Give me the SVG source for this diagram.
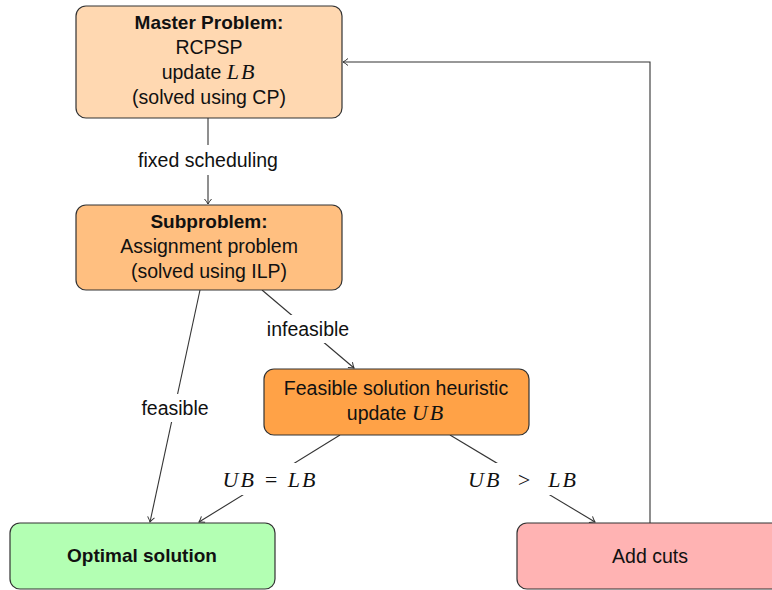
<svg xmlns="http://www.w3.org/2000/svg" width="772" height="590" viewBox="0 0 772 590">
<defs>
<marker id="arr" markerWidth="10" markerHeight="10" refX="7" refY="5" orient="auto" markerUnits="userSpaceOnUse">
<path d="M2,1.5 Q5,4 7,5 Q5,6 2,8.5" fill="none" stroke="#333" stroke-width="1"/>
</marker>
<style>
.box{stroke:#333;stroke-width:1.2}
.t{font-family:"Liberation Sans","DejaVu Sans",sans-serif;font-size:19.5px;fill:#111;text-anchor:middle}
.b{font-weight:bold;font-size:19px}
.m{font-family:"Liberation Serif","DejaVu Serif",serif;font-style:italic;font-size:22px;letter-spacing:2px}
.e{stroke:#333;stroke-width:1.1;fill:none;marker-end:url(#arr)}
.lb{fill:#fff}
</style>
</defs>
<g id="connectors">
<line class="e" x1="208" y1="118" x2="208" y2="204"/>
<line class="e" x1="200" y1="290" x2="150" y2="522"/>
<line class="e" x1="262" y1="290" x2="354" y2="368"/>
<line class="e" x1="340" y1="435" x2="199" y2="522"/>
<line class="e" x1="450" y1="435" x2="595" y2="522"/>
<polyline class="e" points="650,523 650,62 343,62"/>
<rect class="lb" x="128" y="145" width="160" height="30"/>
<text class="t" x="208" y="167">fixed scheduling</text>
<rect class="lb" x="260" y="315" width="96" height="28"/>
<text class="t" x="308" y="336">infeasible</text>
<rect class="lb" x="136" y="394" width="78" height="28"/>
<text class="t" x="175" y="415">feasible</text>
<rect class="lb" x="208" y="463" width="120" height="32"/>
<text class="t m" x="270" y="487" xml:space="preserve">UB = LB</text>
<rect class="lb" x="456" y="463" width="132" height="32"/>
<text class="t m" x="523" y="487" xml:space="preserve">UB  &gt;  LB</text>
</g>
<g id="master">
<rect class="box" x="76" y="6" width="266" height="112" rx="10" fill="#FFD8B1"/>
<text class="t b" x="209" y="29">Master Problem:</text>
<text class="t" x="209" y="54">RCPSP</text>
<text class="t" x="209" y="79">update <tspan class="m">LB</tspan></text>
<text class="t" x="209" y="104">(solved using CP)</text>
</g>
<g id="subproblem">
<rect class="box" x="76" y="205" width="266" height="85" rx="10" fill="#FFBF80"/>
<text class="t b" x="209" y="228">Subproblem:</text>
<text class="t" x="209" y="253">Assignment problem</text>
<text class="t" x="209" y="278">(solved using ILP)</text>
</g>
<g id="heuristic">
<rect class="box" x="264" y="369" width="265" height="66" rx="10" fill="#FFA247"/>
<text class="t" x="396" y="395">Feasible solution heuristic</text>
<text class="t" x="396" y="420">update <tspan class="m">UB</tspan></text>
</g>
<g id="optimal">
<rect class="box" x="10" y="523" width="265" height="66" rx="10" fill="#B3FFB3"/>
<text class="t b" x="142" y="562">Optimal solution</text>
</g>
<g id="addcuts">
<rect class="box" x="517" y="523" width="266" height="66" rx="10" fill="#FFB3B3"/>
<text class="t" x="650" y="563">Add cuts</text>
</g>
</svg>
